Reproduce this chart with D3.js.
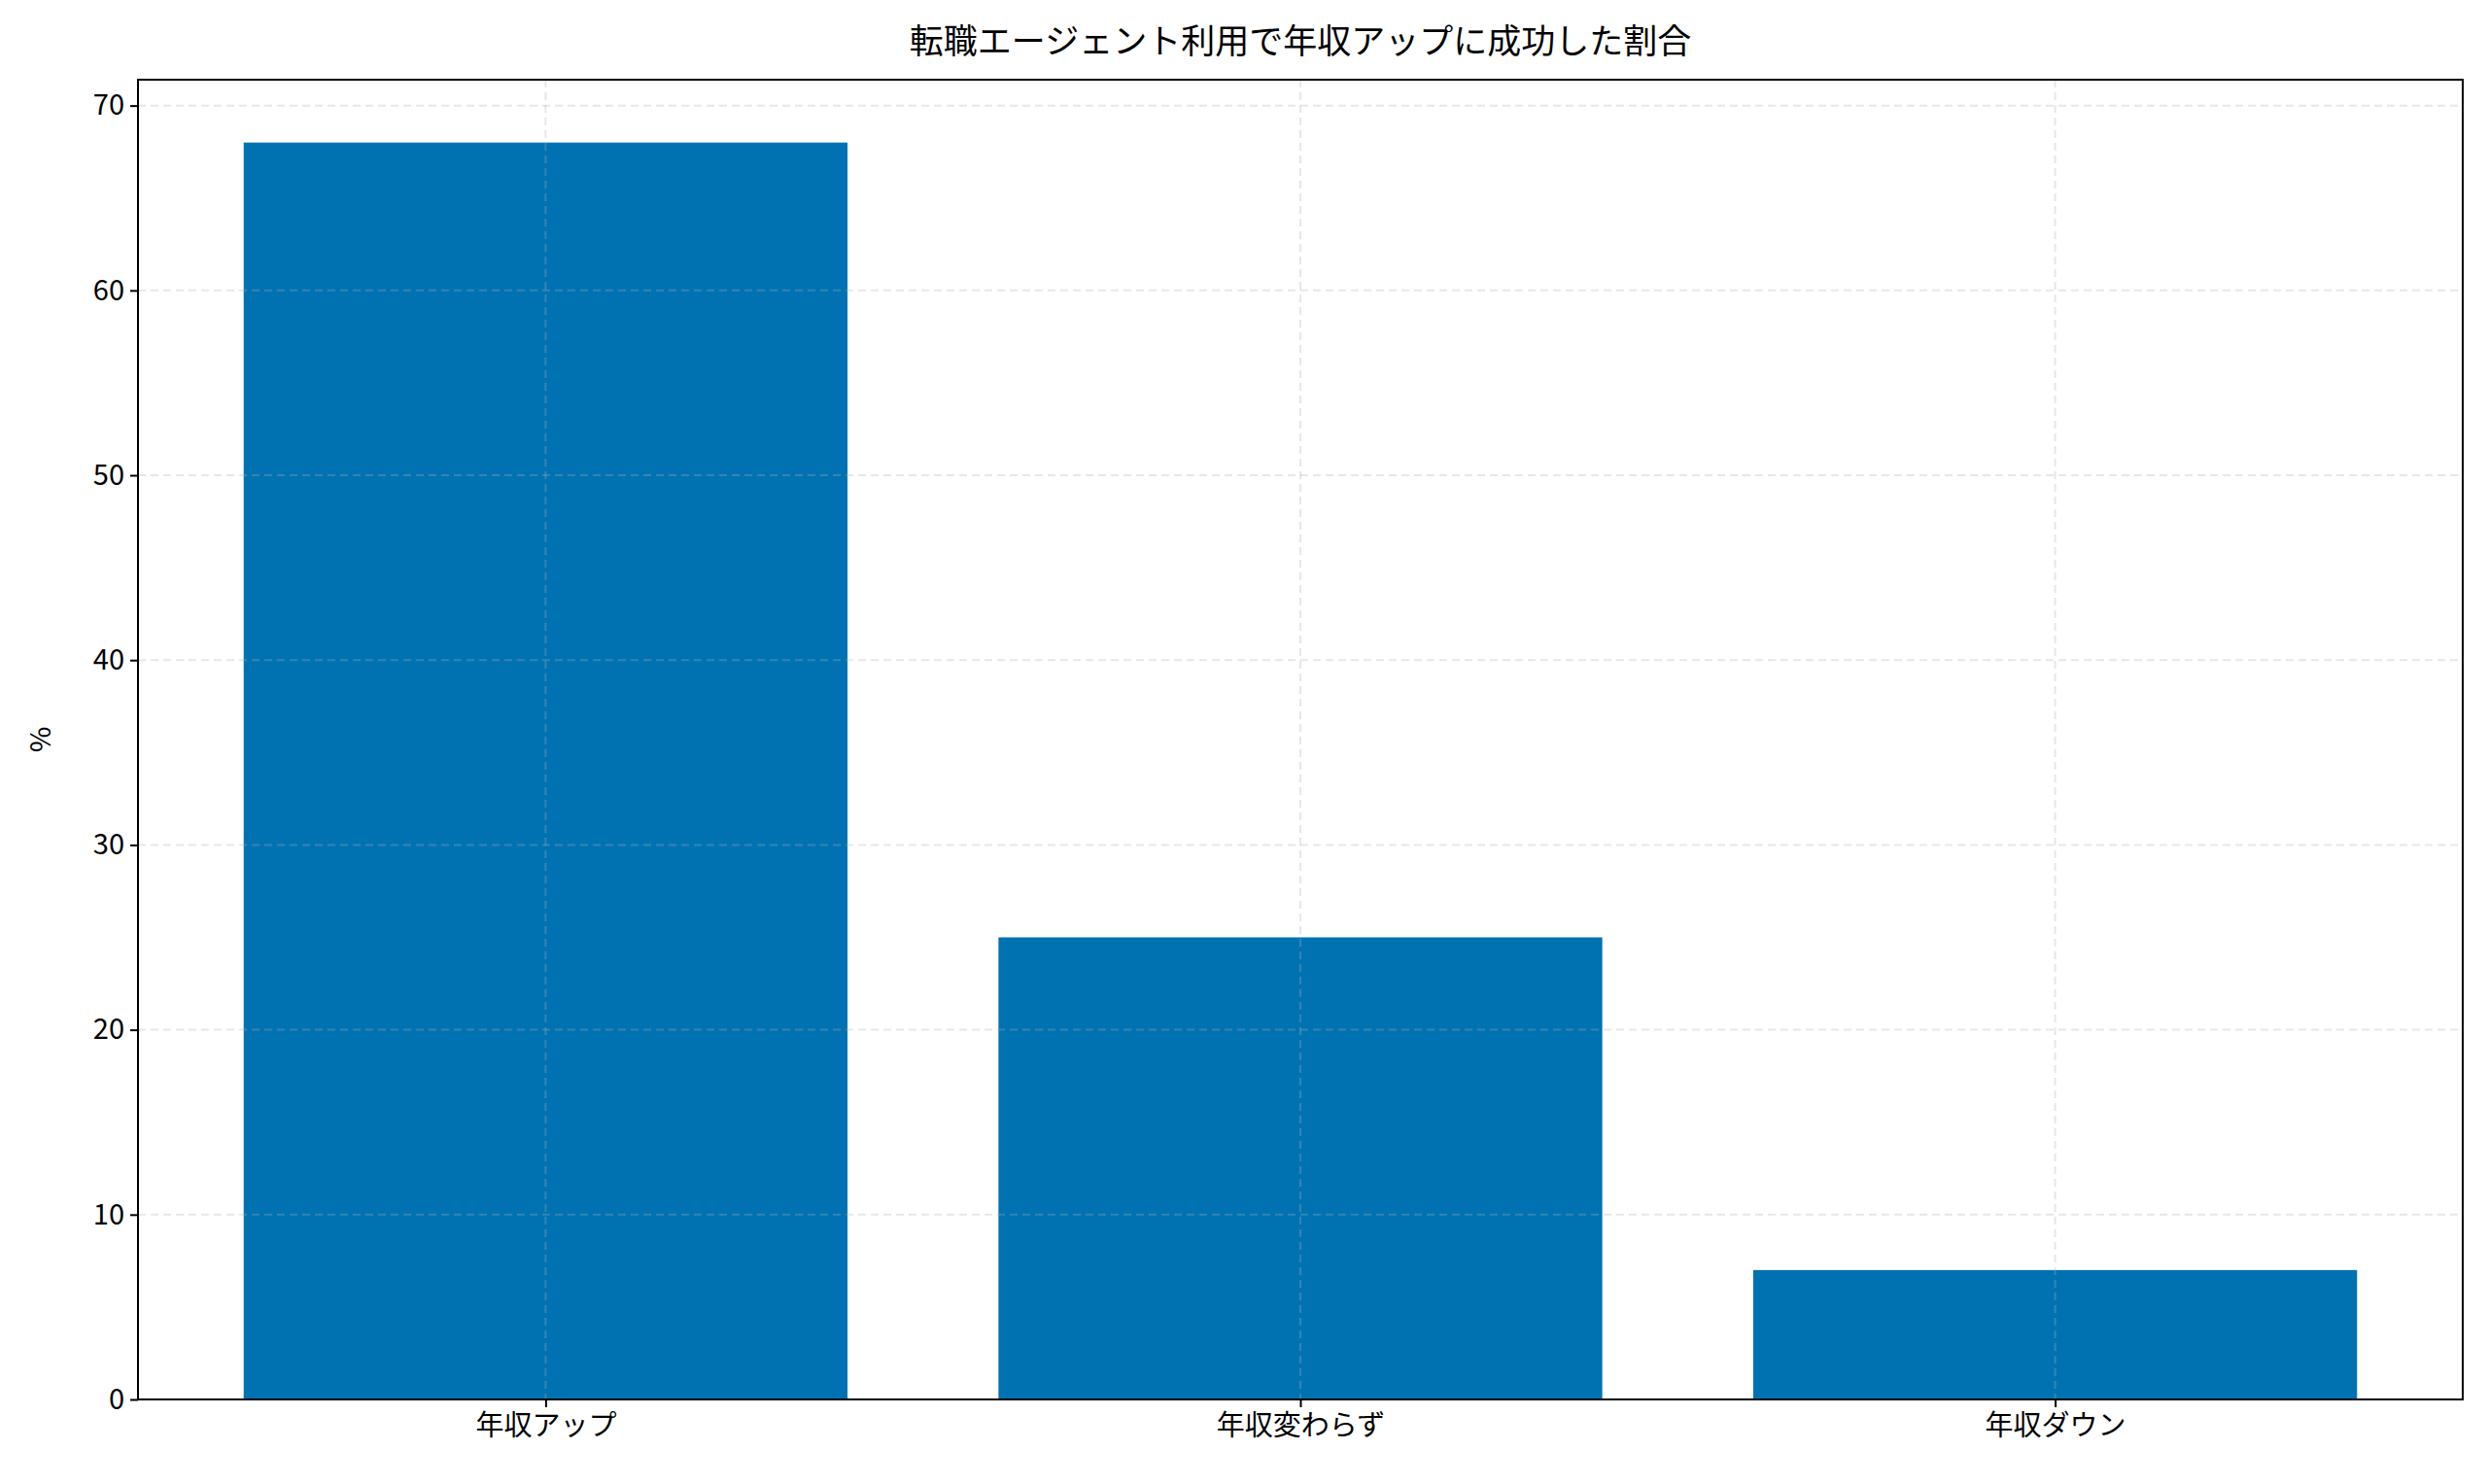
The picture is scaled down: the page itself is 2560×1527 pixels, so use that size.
<!DOCTYPE html>
<html><head><meta charset="utf-8">
<script src="https://cdn.jsdelivr.net/npm/d3@7"></script>
<style>body{margin:0;background:#fff}text{font-family:"Noto Sans CJK JP","Noto Sans",sans-serif}</style>
</head><body><svg id="c" width="2560" height="1527"></svg>
<script>
const categories = ["年収アップ","年収変わらず","年収ダウン"];
const values = [68, 25, 7];
const yTicks = [0,10,20,30,40,50,60,70];
const title = "転職エージェント利用で年収アップに成功した割合";
const yLabel = "%";

const svg = d3.select("#c");
const L=142, R=2534, T=82, B=1440;
const x = d3.scaleLinear().domain([-0.54, 2.54]).range([L,R]);
const y = d3.scaleLinear().domain([0, 71.4]).range([B,T]);
const bw = x(0.8)-x(0);

svg.selectAll("rect.bar").data(values).enter().append("rect")
 .attr("x",(d,i)=>x(i-0.4)).attr("width",bw)
 .attr("y",d=>y(d)).attr("height",d=>B-y(d)).attr("fill","#0072B2");

const g = svg.append("g");
yTicks.forEach(t=>g.append("line").attr("x1",L).attr("x2",R).attr("y1",y(t)).attr("y2",y(t)));
categories.forEach((c,i)=>g.append("line").attr("x1",x(i)).attr("x2",x(i)).attr("y1",T).attr("y2",B));
g.selectAll("line").attr("stroke","#b0b0b0").attr("stroke-opacity",0.3).attr("stroke-width",2).attr("stroke-dasharray","8,5");

const ya = svg.append("g").attr("transform",`translate(${L},0)`)
 .call(d3.axisLeft(y).tickValues(yTicks).tickSize(8).tickPadding(6));
const xa = svg.append("g").attr("transform",`translate(0,${B})`)
 .call(d3.axisBottom(x).tickValues([0,1,2]).tickFormat(i=>categories[i]).tickSize(8).tickPadding(8));
[ya,xa].forEach(a=>{a.select(".domain").remove();a.selectAll("line").attr("stroke","#000").attr("stroke-width",2);
 a.selectAll("text").attr("font-size",29).attr("fill","#000").attr("font-family",'"Noto Sans CJK JP",sans-serif');});

svg.append("rect").attr("x",L).attr("y",T).attr("width",R-L).attr("height",B-T)
 .attr("fill","none").attr("stroke","#000").attr("stroke-width",2);

svg.append("text").attr("x",(L+R)/2).attr("y",55).attr("text-anchor","middle")
 .attr("font-size",35).text(title);
svg.append("text").attr("transform",`translate(52,${(T+B)/2}) rotate(-90)`).attr("text-anchor","middle")
 .attr("font-size",29).text(yLabel);
</script></body></html>
